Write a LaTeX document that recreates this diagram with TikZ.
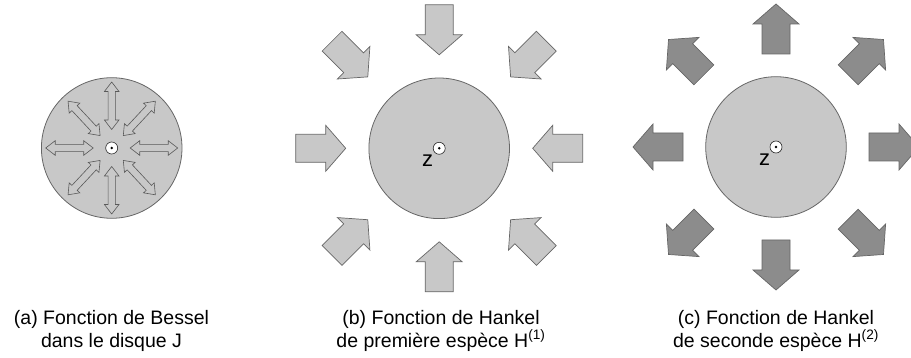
\documentclass[tikz,border=0pt]{standalone}
\usepackage{fontspec}
\setmainfont{Liberation Sans}
\definecolor{lightfill}{HTML}{C8C8C8}
\definecolor{darkfill}{HTML}{8C8C8C}
\definecolor{edgegray}{HTML}{666666}
\tikzset{
  disk/.style={circle, minimum size=140.6pt, inner sep=0pt, fill=lightfill, draw=edgegray, line width=0.8pt},
  origin/.style={circle, minimum size=12pt, inner sep=0pt, fill=white, draw=black!85, line width=0.6pt},
  inarrow/.style={fill=lightfill, draw=edgegray, line width=0.7pt, line join=miter},
  outarrow/.style={fill=darkfill, draw=edgegray, line width=0.7pt, line join=miter},
  dblarrow/.style={fill=lightfill, draw=black!65, line width=0.6pt, line join=miter},
  caption/.style={anchor=base, inner sep=0pt, font=\fontsize{19.5}{22}\selectfont},
  zlabel/.style={inner sep=0pt, font=\fontsize{22}{24}\selectfont}
}
% block arrow: style, centre, angle, tail radius, tip radius
\newcommand\blockarrow[5]{%
  \begin{scope}[shift={#2}, rotate=#3]
    \pgfmathsetmacro\hb{#5-20*sign(#5-#4)}
    \filldraw[#1] (#4,14) -- (\hb,14) -- (\hb,23) -- (#5,0) -- (\hb,-23) -- (\hb,-14) -- (#4,-14) -- cycle;
  \end{scope}}
% double arrow: centre, angle, inner radius, outer radius
\newcommand\doublearrow[4]{%
  \begin{scope}[shift={#1}, rotate=#2]
    \pgfmathsetmacro\ha{#3+9.5}
    \pgfmathsetmacro\hc{#4-9.5}
    \filldraw[dblarrow] (#3,0) -- (\ha,7.3) -- (\ha,3.6) -- (\hc,3.6) -- (\hc,7.3) -- (#4,0)
      -- (\hc,-7.3) -- (\hc,-3.6) -- (\ha,-3.6) -- (\ha,-7.3) -- cycle;
  \end{scope}}
\begin{document}
\begin{tikzpicture}[x=1pt, y=-1pt]
\useasboundingbox (0,0) rectangle (911,358);
\clip (0,0) rectangle (911,358);
\coordinate (ca) at (111.7,148);
\coordinate (cb) at (439.2,148.3);
\coordinate (cc) at (776,147);

% (a) Bessel
\node[disk] (diska) at (ca) {};
\foreach \ang in {0,90,180,270}{\doublearrow{(ca)}{\ang}{18.5}{66}}
\foreach \ang in {47,133,227,313}{\doublearrow{(ca)}{\ang}{17}{64}}
\node[origin] (oa) at (ca) {};
\fill (ca) circle (1.4);

% (b) Hankel 1 : inward
\node[disk] (diskb) at (cb) {};
\foreach \ang in {0,90,180,270}{\blockarrow{inarrow}{(cb)}{\ang}{143.5}{93.5}}
\foreach \ang in {45,135,225,315}{\blockarrow{inarrow}{(cb)}{\ang}{151.5}{101}}
\node[origin] (ob) at (cb) {};
\fill (cb) circle (1.4);
\node[zlabel] (zb) at ([shift={(-11.5,12.5)}]cb) {z};

% (c) Hankel 2 : outward
\node[disk] (diskc) at (cc) {};
\foreach \ang in {0,90,180,270}{\blockarrow{outarrow}{(cc)}{\ang}{93}{143}}
\foreach \ang in {45,135,225,315}{\blockarrow{outarrow}{(cc)}{\ang}{102}{152}}
\node[origin] (oc) at (cc) {};
\fill (cc) circle (1.4);
\node[zlabel] (zc) at ([shift={(-11.5,12.5)}]cc) {z};

% captions
\node[caption] (capa1) at (111.5,325) {(a) Fonction de Bessel};
\node[caption] (capa2) at (111.5,347) {dans le disque J};
\node[caption] (capb1) at (441,325) {(b) Fonction de Hankel};
\node[caption] (capb2) at (441,347) {de première espèce H\textsuperscript{(1)}};
\node[caption] (capc1) at (776,325) {(c) Fonction de Hankel};
\node[caption] (capc2) at (776,347) {de seconde espèce H\textsuperscript{(2)}};
\end{tikzpicture}
\end{document}
